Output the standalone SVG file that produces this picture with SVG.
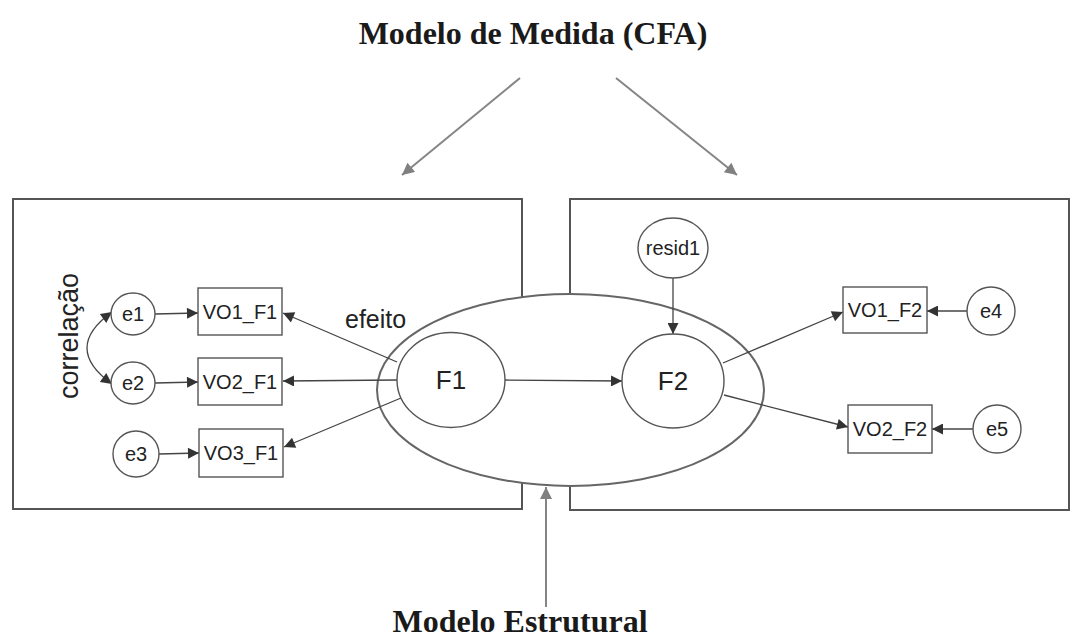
<svg xmlns="http://www.w3.org/2000/svg" width="1071" height="641" viewBox="0 0 1071 641">
<style>
.title{font-family:"Liberation Serif","Times New Roman",serif;font-weight:bold;font-size:32px;fill:#1a1a1a;text-anchor:middle}
.lbl{font-family:"Liberation Sans",Arial,sans-serif;font-size:20px;fill:#222;text-anchor:middle;dominant-baseline:central}
.fac{font-size:26px}
.big{font-family:"Liberation Sans",Arial,sans-serif;font-size:25px;fill:#222}
.node{fill:#fff;stroke:#555;stroke-width:1.4}
.frame{fill:none;stroke:#555;stroke-width:2}
.con{fill:none;stroke:#444;stroke-width:1.3;marker-end:url(#ah)}
.gray{fill:none;stroke:#858585;stroke-width:2;marker-end:url(#gh)}
</style>
<defs>
<marker id="ah" viewBox="0 0 10 10" refX="10" refY="5" markerWidth="15" markerHeight="11" markerUnits="userSpaceOnUse" orient="auto-start-reverse"><path d="M0,0 L10,5 L0,10 z" fill="#333"/></marker>
<marker id="gh" viewBox="0 0 10 10" refX="10" refY="5" markerWidth="16" markerHeight="12" markerUnits="userSpaceOnUse" orient="auto"><path d="M0,0 L10,5 L0,10 z" fill="#808080"/></marker>
</defs>
<rect width="1071" height="641" fill="#fff"/>
<text class="title" x="533" y="44">Modelo de Medida (CFA)</text>
<text class="title" x="520" y="632">Modelo Estrutural</text>
<g id="frames">
<rect class="frame" x="13" y="199" width="509" height="310"/>
<rect class="frame" x="570" y="199" width="499" height="311"/>
</g>
<g id="structural">
<ellipse cx="570.5" cy="390" rx="193.5" ry="96" fill="#fff" stroke="#666" stroke-width="2"/>
</g>
<g id="connectors">
<path class="gray" d="M520,78 L402,175"/>
<path class="gray" d="M616,78 L737,175"/>
<path class="gray" d="M546,607 L546,487"/>
<path class="con" d="M155,314 L198,313"/>
<path class="con" d="M155,383 L198,382"/>
<path class="con" d="M159,454 L199,453"/>
<path class="con" d="M112,312 Q62,348 112,384" style="marker-start:url(#ah)"/>
<path class="con" d="M397,362 L283,313"/>
<path class="con" d="M397,380 L283,381"/>
<path class="con" d="M401,398 L284,447"/>
<path class="con" d="M505,380 L622,381"/>
<path class="con" d="M673,278 L673,334"/>
<path class="con" d="M723,363 L843,312"/>
<path class="con" d="M724,395 L848,427"/>
<path class="con" d="M967,311 L927,311"/>
<path class="con" d="M973,429 L932,429"/>
</g>
<text class="big" x="345" y="328">efeito</text>
<text class="big" transform="translate(78,336) rotate(-90)" style="text-anchor:middle;font-size:27px">correlação</text>
<g id="e1"><ellipse class="node" cx="133" cy="314" rx="22" ry="21"/><text class="lbl" x="133" y="314">e1</text></g>
<g id="e2"><ellipse class="node" cx="133" cy="383" rx="22" ry="21"/><text class="lbl" x="133" y="383">e2</text></g>
<g id="e3"><ellipse class="node" cx="136" cy="454" rx="23" ry="23"/><text class="lbl" x="136" y="454">e3</text></g>
<g id="VO1_F1"><rect class="node" x="198" y="288" width="84" height="47"/><text class="lbl" x="240" y="312">VO1_F1</text></g>
<g id="VO2_F1"><rect class="node" x="198" y="358" width="84" height="47"/><text class="lbl" x="240" y="382">VO2_F1</text></g>
<g id="VO3_F1"><rect class="node" x="199" y="429" width="84" height="48"/><text class="lbl" x="241" y="453">VO3_F1</text></g>
<g id="F1"><ellipse class="node" cx="451" cy="380" rx="54" ry="47.5"/><text class="lbl fac" x="451" y="380">F1</text></g>
<g id="F2"><ellipse class="node" cx="673" cy="381" rx="51" ry="47"/><text class="lbl fac" x="673" y="381">F2</text></g>
<g id="resid1"><ellipse class="node" cx="673" cy="248" rx="35" ry="30"/><text class="lbl" x="673" y="248">resid1</text></g>
<g id="VO1_F2"><rect class="node" x="843" y="287" width="84" height="46"/><text class="lbl" x="885" y="310">VO1_F2</text></g>
<g id="VO2_F2"><rect class="node" x="848" y="405" width="84" height="48"/><text class="lbl" x="890" y="429">VO2_F2</text></g>
<g id="e4"><ellipse class="node" cx="991" cy="311" rx="24" ry="24"/><text class="lbl" x="991" y="311">e4</text></g>
<g id="e5"><ellipse class="node" cx="997" cy="429" rx="24" ry="24"/><text class="lbl" x="997" y="429">e5</text></g>
</svg>
